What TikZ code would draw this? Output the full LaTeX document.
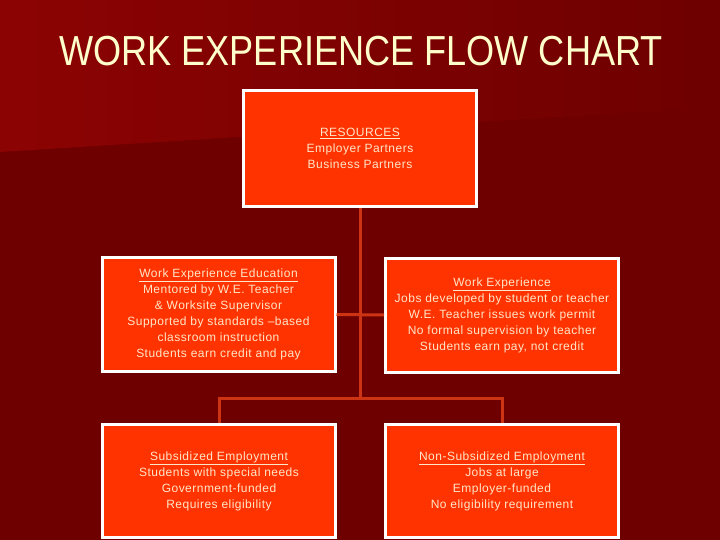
\documentclass[tikz,border=0pt]{standalone}
\usepackage{fontspec}
\setmainfont{Liberation Sans}
\newfontfamily\cardfont[LetterSpace=4]{Liberation Sans}
\usetikzlibrary{positioning}

\definecolor{bgdark}{HTML}{6E0000}
\definecolor{bglight}{HTML}{8C0303}
\definecolor{boxfill}{HTML}{FF3300}
\definecolor{linkred}{HTML}{CC3414}
\definecolor{titlecream}{HTML}{FFFFCC}
\definecolor{textcream}{HTML}{FFE6C8}

\begin{document}
\begin{tikzpicture}[
    x=1pt, y=-1pt,
    card/.style={draw=white, line width=3pt, fill=boxfill, text=textcream,
        align=center, inner sep=2pt, minimum width=233pt, minimum height=114pt,
        font=\cardfont\fontsize{12}{16}\selectfont},
    link/.style={draw=linkred, line width=3pt}
]
    % background
    \fill[bgdark] (0,0) rectangle (720,540);
    \shade[left color=bglight, right color=bgdark] (0,0) -- (720,0) -- (720,107) -- (0,152) -- cycle;
    \useasboundingbox (0,0) rectangle (720,540);

    \node[anchor=base, text=titlecream, font=\fontsize{42}{48}\selectfont] (title) at (361,66)
        {\scalebox{0.86}[1]{WORK EXPERIENCE FLOW CHART}};

    % boxes
    \node[card, minimum height=116pt] (res) at (360,148.5)
        {\underline{RESOURCES}\\Employer Partners\\Business Partners};
    \node[card] (wee) at (218.5,314.5)
        {\underline{Work Experience Education}\\Mentored by W.E. Teacher\\\& Worksite Supervisor\\Supported by standards {\textendash}based\\classroom instruction\\Students earn credit and pay};
    \node[card] (wex) at (502,315)
        {\underline{Work Experience}\\Jobs developed by student or teacher\\W.E. Teacher issues work permit\\No formal supervision by teacher\\Students earn pay, not credit};
    \node[card, minimum height=113pt] (sub) at (219,481)
        {\underline{Subsidized Employment}\\Students with special needs\\Government-funded\\Requires eligibility};
    \node[card, minimum height=113pt] (nsub) at (502,481)
        {\underline{Non-Subsidized Employment}\\Jobs at large\\Employer-funded\\No eligibility requirement};

    % connectors
    \coordinate (jn) at (360,398);
    \draw[link] (res.south) -- (jn);
    \draw[link] (wee.east) -- (wex.west);
    \draw[link] (sub.north) |- (jn) -| (nsub.north);
\end{tikzpicture}
\end{document}
